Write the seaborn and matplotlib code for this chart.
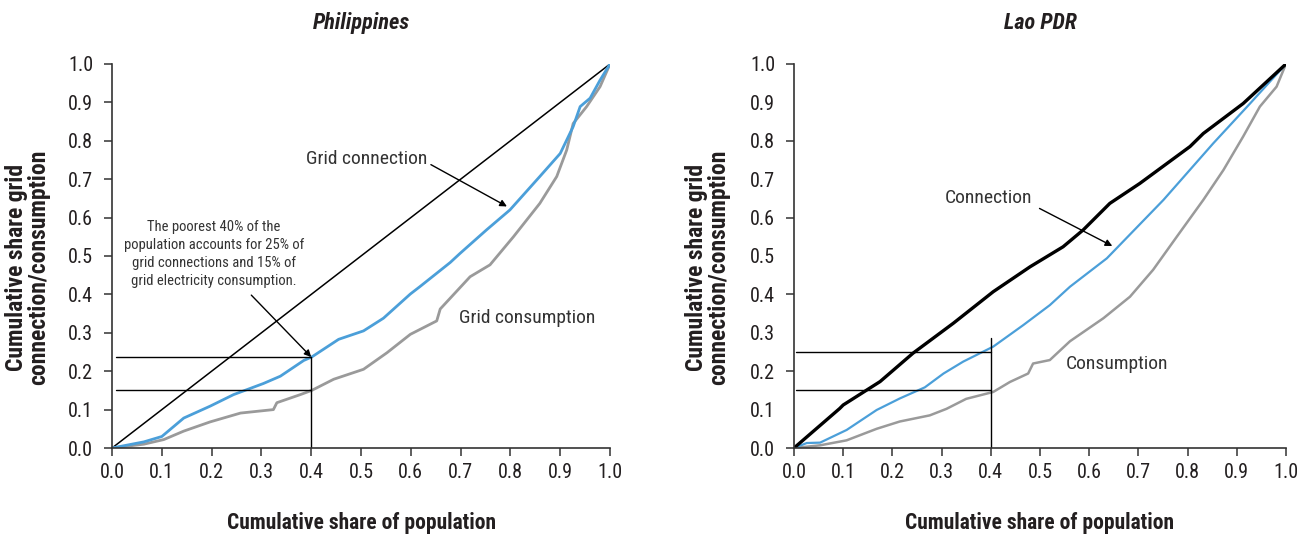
import numpy as np
import matplotlib.pyplot as plt
import seaborn as sns

sns.set_theme(style="white")
plt.rcParams["font.family"] = ["Roboto Condensed", "Liberation Sans Narrow", "Roboto", "DejaVu Sans"]

# Philippines: Lorenz-type curves
ph_conn_x = [0, 0.064, 0.10, 0.144, 0.197, 0.244, 0.304, 0.338, 0.385, 0.401, 0.455, 0.505,
             0.545, 0.599, 0.618, 0.679, 0.699, 0.752, 0.799, 0.859, 0.900, 0.926, 0.940,
             0.960, 0.980, 1.0]
ph_conn_y = [0, 0.016, 0.030, 0.078, 0.109, 0.139, 0.168, 0.187, 0.228, 0.237, 0.283, 0.305,
             0.338, 0.401, 0.420, 0.483, 0.507, 0.568, 0.620, 0.707, 0.767, 0.837, 0.889,
             0.911, 0.958, 1.0]
ph_cons_x = [0, 0.064, 0.104, 0.144, 0.197, 0.258, 0.324, 0.331, 0.378, 0.401, 0.445, 0.505,
             0.552, 0.599, 0.652, 0.659, 0.719, 0.759, 0.806, 0.859, 0.893, 0.913, 0.926,
             0.953, 0.980, 1.0]
ph_cons_y = [0, 0.010, 0.022, 0.044, 0.068, 0.091, 0.100, 0.118, 0.139, 0.150, 0.179, 0.205,
             0.248, 0.296, 0.331, 0.362, 0.446, 0.477, 0.550, 0.637, 0.707, 0.776, 0.845,
             0.889, 0.941, 1.0]

# Lao PDR
la_top_x = [0, 0.093, 0.100, 0.175, 0.242, 0.324, 0.405, 0.480, 0.547, 0.588, 0.642, 0.703,
            0.805, 0.832, 0.913, 1.0]
la_top_y = [0, 0.103, 0.112, 0.173, 0.247, 0.325, 0.407, 0.472, 0.524, 0.568, 0.637, 0.689,
            0.785, 0.819, 0.897, 1.0]
la_conn_x = [0, 0.026, 0.053, 0.107, 0.168, 0.215, 0.266, 0.304, 0.344, 0.405, 0.466, 0.520,
             0.561, 0.636, 0.751, 0.852, 0.927, 1.0]
la_conn_y = [0, 0.013, 0.014, 0.047, 0.099, 0.129, 0.158, 0.194, 0.225, 0.264, 0.320, 0.372,
             0.420, 0.494, 0.646, 0.793, 0.897, 1.0]
la_cons_x = [0, 0.053, 0.107, 0.168, 0.215, 0.276, 0.310, 0.350, 0.405, 0.439, 0.476, 0.486,
             0.520, 0.561, 0.629, 0.683, 0.730, 0.778, 0.832, 0.873, 0.913, 0.947, 0.981, 1.0]
la_cons_y = [0, 0.007, 0.020, 0.050, 0.069, 0.085, 0.102, 0.128, 0.146, 0.172, 0.194, 0.220,
             0.229, 0.278, 0.338, 0.394, 0.464, 0.550, 0.646, 0.724, 0.811, 0.889, 0.941, 1.0]

ticks = np.round(np.arange(0, 1.01, 0.1), 1)
tick_labels = [f"{t:.1f}" for t in ticks]

BLUE = "#4b9fd9"
GRAY = "#9a9a9a"
TXT = "#231f20"
NOTE = "#333333"
TICK_SIZE = 14.5
LABEL_SIZE = 15.5
TICK_LEN = 5.5
YPAD = 8

fig = plt.figure(figsize=(13.15, 5.35), dpi=100)
ax1 = fig.add_axes([0.0852, 0.1626, 0.3787, 0.7178])
ax2 = fig.add_axes([0.6038, 0.1626, 0.3741, 0.7178])


def style_axes(ax, title, every_tick=True):
    ax.set_xlim(0, 1)
    ax.set_ylim(0, 1)
    ax.set_xticks(ticks)
    ax.set_xticklabels(tick_labels)
    if every_tick:
        ax.set_yticks(ticks)
        ax.set_yticklabels(tick_labels)
    else:
        # right panel only has tick marks every 0.2
        ax.set_yticks(ticks[::2])
        ax.set_yticklabels(tick_labels[::2])
        ax.set_yticks(ticks[1::2], minor=True)
        ax.set_yticklabels(tick_labels[1::2], minor=True)
        ax.tick_params(axis="y", which="minor", length=0, left=True, labelsize=TICK_SIZE,
                       labelcolor=TXT, pad=YPAD + TICK_LEN)
    for s in ["top", "right"]:
        ax.spines[s].set_visible(False)
    for s in ["left", "bottom"]:
        ax.spines[s].set_color("#333333")
        ax.spines[s].set_linewidth(1.2)
    ax.tick_params(axis="both", which="major", direction="out", length=TICK_LEN, width=1.1,
                   color="#333333", labelsize=TICK_SIZE, labelcolor=TXT, left=True, bottom=True)
    ax.tick_params(axis="y", which="major", pad=YPAD)
    ax.tick_params(axis="x", which="major", pad=5)
    ax.set_xlabel("Cumulative share of population", fontsize=LABEL_SIZE, fontweight="bold",
                  color=TXT, labelpad=22)
    ax.set_ylabel("")
    ax.set_title(title, fontsize=16, fontweight="bold", fontstyle="italic", color=TXT, pad=25)
    ax.grid(False)


# Philippines panel
sns.lineplot(x=[0, 1], y=[0, 1], ax=ax1, color="black", linewidth=1.1)
sns.lineplot(x=ph_cons_x, y=ph_cons_y, ax=ax1, color=GRAY, linewidth=2, sort=False)
sns.lineplot(x=ph_conn_x, y=ph_conn_y, ax=ax1, color=BLUE, linewidth=2, sort=False)
ax1.plot([0.007, 0.4], [0.238, 0.238], color="black", linewidth=1)
ax1.plot([0.007, 0.4], [0.150, 0.150], color="black", linewidth=1)
ax1.plot([0.4, 0.4], [0, 0.238], color="black", linewidth=1)
ax1.annotate("The poorest 40% of the\npopulation accounts for 25% of\n"
             "grid connections and 15% of\ngrid electricity consumption.",
             xy=(0.4, 0.237), xytext=(0.204, 0.505), ha="center", va="center",
             fontsize=10.5, color=NOTE, linespacing=1.35,
             arrowprops=dict(arrowstyle="-|>", color="black", lw=1, mutation_scale=10,
                             shrinkA=4, shrinkB=0, relpos=(0.67, 0)))
ax1.annotate("Grid connection", xy=(0.793, 0.629), xytext=(0.39, 0.752),
             ha="left", va="center", fontsize=14, color=NOTE,
             arrowprops=dict(arrowstyle="-|>", color="black", lw=1, mutation_scale=10,
                             shrinkA=0, shrinkB=0, relpos=(1, 0.3)))
ax1.text(0.697, 0.338, "Grid consumption", ha="left", va="center", fontsize=14,
         color=NOTE)
style_axes(ax1, "Philippines", every_tick=True)

# Lao PDR panel
sns.lineplot(x=la_cons_x, y=la_cons_y, ax=ax2, color=GRAY, linewidth=1.8, sort=False)
sns.lineplot(x=la_conn_x, y=la_conn_y, ax=ax2, color=BLUE, linewidth=1.6, sort=False)
sns.lineplot(x=la_top_x, y=la_top_y, ax=ax2, color="black", linewidth=2.4, sort=False)
ax2.plot([0.005, 0.4], [0.249, 0.249], color="black", linewidth=1)
ax2.plot([0.005, 0.4], [0.150, 0.150], color="black", linewidth=1)
ax2.plot([0.4, 0.4], [0, 0.286], color="black", linewidth=1)
ax2.annotate("Connection", xy=(0.647, 0.526), xytext=(0.307, 0.652),
             ha="left", va="center", fontsize=14, color=NOTE,
             arrowprops=dict(arrowstyle="-|>", color="black", lw=1, mutation_scale=10,
                             shrinkA=3, shrinkB=0, relpos=(1.0, 0.1)))
ax2.text(0.553, 0.219, "Consumption", ha="left", va="center", fontsize=14, color=NOTE)
style_axes(ax2, "Lao PDR", every_tick=False)

for xpos in [0.0209, 0.538]:
    fig.text(xpos, 0.501, "Cumulative share grid\nconnection/consumption", rotation=90,
             ha="center", va="center", fontsize=17, fontweight="bold", color=TXT,
             linespacing=0.95)

fig.savefig("out.png", dpi=100, facecolor="white")
